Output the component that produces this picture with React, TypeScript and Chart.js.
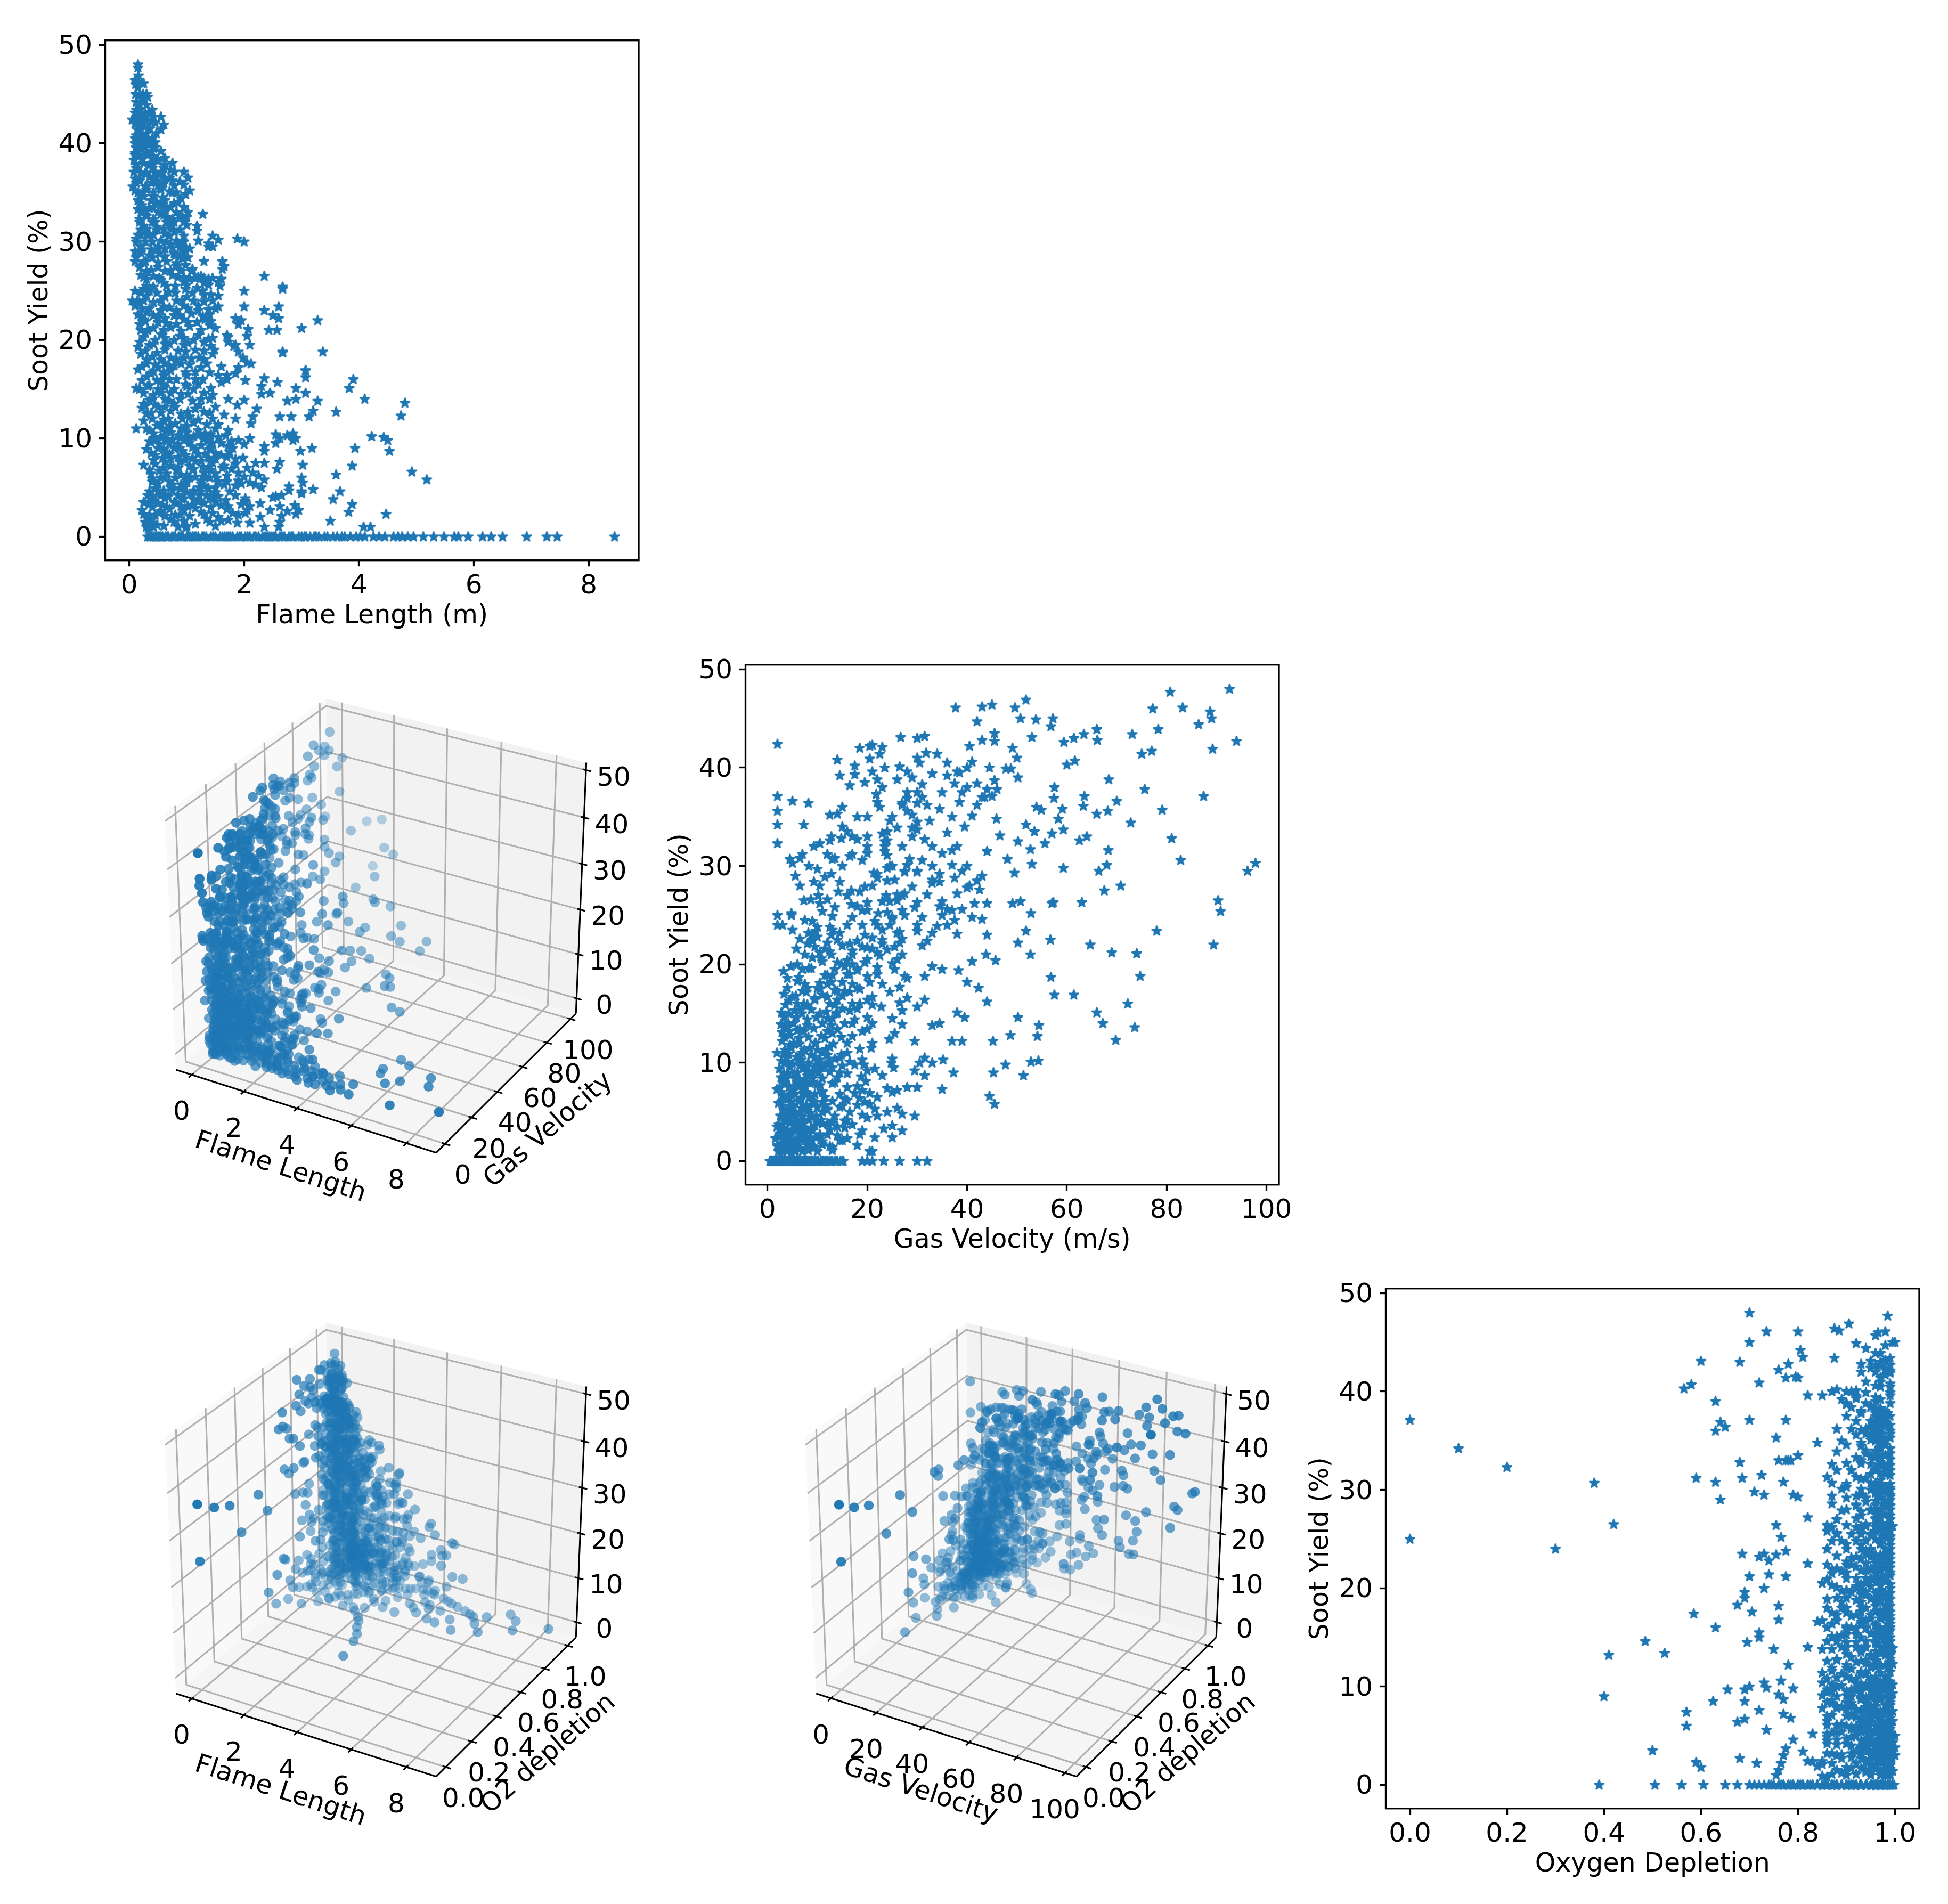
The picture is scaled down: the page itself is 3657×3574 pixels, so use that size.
import React, { useEffect, useRef } from "react";
import { Chart, registerables } from "chart.js";

Chart.register(...registerables);

// [flame length, gas velocity, oxygen depletion]
const zeroYieldRows = [
[.32,6.1,.97],[.38,2.2,.93],[.42,.6,.99],[.47,3.4,.88],[.52,1.1,.98],[.58,5.2,.84],[.63,7.4,.95],[.68,.9,.9],[.74,4.3,.78],[.8,8.3,.96],
[.86,2.8,.7],[.93,9.6,.92],[1,1.6,.86],[1.06,10.7,.745],[1.13,3.9,.99],[1.2,11.8,.765],[1.27,.5,.91],[1.34,6.7,.785],[1.42,13,.97],[1.5,2.4,.805],
[1.58,14,.94],[1.66,5.6,.825],[1.73,7,.72],[1.8,9,.89],[1.88,12.4,.855],[1.95,9.5,.98],[2.02,1.3,.875],[2.1,7.9,.73],[2.17,6,.95],[2.25,4.8,.71],
[2.32,8,.91],[2.4,10.2,.83],[2.48,11,.93],[2.55,3.2,.675],[2.62,5,.94],[2.7,11.2,.65],[2.78,3,.955],[2.85,6.4,.605],[3,1.9,.965],[3.08,8.8,.56],
[3.15,13.5,.975],[3.22,2.6,.505],[3.3,15.2,.985],[3.4,4.6,.39],[3.55,7,.995],[3.62,.8,.87],[3.7,12,.998],[3.85,3.6,.85],[3.95,5.9,.988],[4.1,9.9,.82],
[4.25,1.5,.9],[4.45,7.7,.972],[4.6,2.9,.8],[4.68,11,.962],[4.75,4.1,.88],[4.85,.7,.952],[4.95,6.2,.79],[5.12,3,.942],[5.3,8.6,.84],[5.48,1.8,.928],
[5.66,23.3,.77],[5.73,20,.915],[5.9,32,.905],[6.15,15,.86],[6.3,30,.93],[6.5,19,.81],[6.92,3,.995],[7.27,26.5,.96],[7.45,21,.89],[8.45,8,.97],
[.36,1.9,.9],[.45,4.8,.82],[.55,2.9,.94],[.66,6,.87],[.78,3.4,.99],[.9,7.8,.85],[1.03,5.4,.96],[1.16,9,.8],[1.3,2.2,.93],[1.46,6.4,.88],
[1.62,10,.98],[1.76,3.6,.83],[1.92,8.2,.92],[2.06,4.4,.86],[2.2,11.5,.97],[2.36,2.8,.9],[2.52,7.2,.81],[2.66,5.8,.95],[2.82,9.4,.84],[3.05,4,.89],
[3.25,6.6,.93],[3.45,2.4,.78],[3.75,8.6,.96],[4.02,1.2,.91],[4.35,5,.87],[.5,.8,.76],[1.1,1.4,.74],[1.7,12.8,.77],[2.44,13.8,.75],[2.95,14.6,.79]];

// [flame length, gas velocity, oxygen depletion, soot yield]
const lowYieldRows = [
[.35,4,.755,1],[.42,7,.97,1],[.85,10,.99,1],[1,13,.99,1.1],[.3,21,.9,1],[2.35,20.5,.985,1],[2.6,2.2,.97,1],[4.08,3,.98,1],[4.2,5.5,.95,1],[.28,2,.76,1.5],
[.42,3.5,.985,1.4],[.72,6,.6,1.8],[1.4,9,.97,1.5],[1.6,18,.96,1.6],[1.88,13,.995,1.4],[2.62,12.5,.94,1.5],[3.5,8,.99,1.6],[.3,5,.95,1.3],[.95,2,.98,1.6],[.38,11,.91,1.7],
[.25,1.6,.59,2.3],[.35,3,.715,2.2],[.45,5,.765,2.2],[.62,7.5,.85,2.1],[.8,8.8,.99,2.2],[1.05,14.5,.95,2.1],[1.3,16,.97,2.3],[1.55,11,.98,2],[1.8,25,.82,2.4],[2.02,21.5,.83,2.4],
[2.28,6,.99,2],[2.65,15,.96,2.1],[2.9,8.5,.94,2.3],[3.82,2.4,.98,2.5],[4.47,3.3,.99,2.3],[.22,2.5,.68,2.7],[.55,4.5,.975,2.6],[.95,6.5,.93,2.7],[1.25,10.5,.99,2.5],[1.7,3.8,.965,2.8],
[2.05,12,.98,2.7],[2.95,18.5,.97,2.7],[.4,2.9,.77,3],[.65,4,1,3],[.9,8,.96,3.1],[1.1,12.5,.91,3.2],[1.42,7,.88,3],[1.72,19,.99,3.1],[1.95,23.3,.98,3.3],[2.1,27,.93,3.1],
[2.62,9,.95,3.1],[2.88,5,.985,3.2],[3.88,7,.97,3.3],[.25,1.9,.5,3.5],[.5,3.2,.81,3.4],[.78,6.2,.99,3.5],[1.2,9.5,.97,3.6],[1.5,14,.945,3.5],[2.02,25,.99,3.6],[3.55,11,.96,3.8],
[.4,2.3,.775,3.7],[.62,4.6,.945,3.9],[.92,7.2,1,3.8],[1.12,12,.99,3.8],[1.4,5.6,.96,4],[1.68,17,.93,3.7],[2.02,10,.98,3.9],[2.5,3.6,.97,4],[.32,3.4,.9,4.2],[.55,6,.99,4.2],
[.85,8.3,.965,4.2],[1.1,4.5,.995,4.3],[1.35,10.8,.95,4.2],[1.55,15.5,.97,4.1],[2.55,13,.985,4.1],[2.65,6.8,.94,4.2],[3,20,.96,4.4],[.5,2.6,.79,4.6],[.75,5,.97,4.7],[1,9,.93,4.5],
[1.25,13.5,.99,4.6],[1.5,7,.86,4.5],[2.78,19,.98,4.7],[3.67,22,.94,4.6],[3.0,29.5,.99,4.6],[.45,3.9,.98,4.9],[.72,6.5,.95,5],[.95,11,.985,5],[1.22,5.5,.92,5],[1.5,16.5,1,5],
[2.3,24,.97,5],[2.78,8,.99,5.1],[.9,21.5,.96,5.3],[1.3,4,.83,5.2],[1.65,7.5,.99,5.3],[1.95,26,.88,5.4],[2.2,12,.97,5.3],[2.1,14.5,.94,5.5],[3.2,27,.995,4.8],[3.02,10,.98,5.5]];

const lowMidRows = [
[.4,3,.735,5.6],[.7,5.2,.96,5.6],[1,7.8,.99,5.7],[1.25,11.5,.91,5.7],[1.7,15,.97,5.6],[1.9,18,.98,5.7],[2.35,20.5,.93,5.8],[5.18,45.5,.97,5.8],[.55,2.8,.57,6],[.8,4.7,.99,6],
[1.05,9.2,.96,6],[1.3,13,.88,6.1],[1.52,19.5,.99,6],[2,6.3,.945,6.1],[2.25,16,.97,6.2],[3,11,.9,6],[.38,3.6,.675,6.4],[.65,6.7,.985,6.4],[1,4.1,.93,6.3],[1.3,8.4,.97,6.5],
[1.5,18.5,.95,6.4],[1.9,11.5,.995,6.5],[2.15,22,.86,6.5],[3.6,15.5,.98,6.3],[4.92,44.5,.94,6.6],[.52,3,.69,6.7],[.82,5.5,.97,6.8],[1.1,9.5,.785,6.8],[1.42,14.5,.99,6.8],[1.78,17.5,.92,6.9],
[2.05,25,.96,7],[2.57,20.5,.97,6.9],[.45,2.4,.57,7.4],[.72,7.2,.77,7.2],[1.05,5.3,.95,7.2],[1.28,11,.99,7.1],[1.65,19,.91,7.2],[1.85,24,.98,7.4],[2.2,30,.94,7.5],[3.02,35,.96,7.3],
[3.88,26,.99,7.2],[.25,1.9,.945,7.3],[.62,4.4,.72,7.6],[.88,7.6,.98,7.6],[1.15,10.5,.9,7.7],[1.45,16,.97,7.5],[2.35,28,.995,7.5],[2.62,18,.93,7.6],[.58,3.5,.96,8],[.85,6.4,.99,8.1],
[1.1,9,.88,8],[1.38,13.5,.95,8],[1.7,19.7,.98,8.1],[1.98,7,.91,8],[.38,2.7,.625,8.5],[.65,5.6,.69,8.5],[.92,8,.77,8.7],[1.2,11,.99,8.4],[1.5,14,.96,8.5],[1.75,18.8,.87,8.6],
[2.35,31.5,.97,8.7],[2.98,23,.99,8.7],[4.53,51.3,.93,8.7],[.3,3.3,.95,8.9],[.5,6,.4,9],[.78,9,.98,9],[1.1,12.5,.9,9.1],[1.4,16,.97,8.9],[1.72,20,.99,9.2],[2.35,29.5,.76,9.2],
[3.93,45.3,.98,9],[3.18,37.3,.96,9],[.52,2.4,.96,9.4],[.85,7.1,.86,9.4],[1.25,10,.995,9.3],[1.6,13,.93,9.5],[2,21.5,.97,9.4],[2.55,25.3,.985,9.5],[.35,4.5,.655,9.7],[.65,6.5,.69,9.7],
[.95,9.8,.99,9.8],[1.35,15,.91,9.7],[1.9,17.5,.975,9.8],[2.1,24.8,.95,10],[2.85,19.3,.79,9.8],[4.5,47.7,.98,9.8],[.45,3.4,.7,10],[.75,5,.735,9.9],[1,8.2,.96,10],[1.3,12,.88,10],
[1.55,16.5,.99,10.1],[2.62,33,.97,10],[2.9,30.5,.94,10],[4.43,52.8,.96,10.1],[4.22,54.3,.995,10.2],[.6,2.8,.97,10.2],[.85,6.8,.92,10.3],[1.2,10.5,.98,10.3],[1.42,13.5,.85,10.4],[1.68,19,.93,10.3],
[2.55,25,.73,10.4],[2.75,35.2,.99,10.3],[.42,3.9,.97,10.5],[.72,5.8,.765,10.6],[1,9.5,.95,10.6],[1.32,14.5,.99,10.5],[2.85,31.5,.965,10.5],[.12,1.9,.9,11],[.3,3.2,.98,11],[.58,7,.96,11],
[.9,11,.9,11],[1.5,16,.985,11],[.55,4.8,.94,11.5],[.8,8.5,.99,11.5],[1.12,12.5,.87,11.6],[1.55,18.5,.97,11.4],[2.12,20.8,.93,11.5],[.4,5.3,.985,12],[.68,9.7,.95,12],[1.05,2.9,.78,12.2],
[1.45,16,.99,12],[1.85,21,.96,12],[2.62,37,.9,12.2],[2.82,39,.98,12.2],[3.13,45.2,.97,12.2],[4.73,69.8,.995,12.3],[.3,6.3,.92,12.5],[.55,3.4,.96,12.6],[.9,11.5,.99,12.5],[1.3,17,.88,12.7],
[1.65,24.4,.94,12.4],[2.15,29.5,.97,12.2],[3.2,48.7,.99,12.8],[3.6,54.1,.96,12.7],[.22,2.9,.95,13.1],[.5,4.4,.98,13.2],[.8,7.3,.41,13.2],[1.15,13,.91,13],[1.5,19,.99,13.2],[2.22,25.5,.96,13]];

const midRows = [
[.25,3.5,.975,13.5],[.45,6.5,.525,13.4],[.78,9.3,.93,13.5],[1.22,14,.99,13.4],[1.88,20,.97,13.4],[2.75,33,.85,13.8],[3.28,54.4,.75,13.8],[4.8,73.6,.96,13.6],[.35,2.7,.98,13.9],[.62,5.2,.94,14],
[.88,11,.99,14],[1.25,15.5,.82,14],[1.72,21,.97,14],[2.0,27,.995,13.9],[2.9,34.5,.92,14],[4.1,67.2,.97,14],[.42,8,.96,14.4],[.72,3.4,.485,14.6],[1.02,12,.695,14.5],[1.45,17.5,.98,14.4],
[2.3,25,.9,14.5],[2.45,39.5,.99,14.6],[3.07,50.2,.96,14.6],[.18,4.3,.97,15],[.5,6.9,.72,15],[.78,10.5,.99,15],[1.12,13.8,.93,15],[2.3,27,.975,15.3],[2.9,38,.88,15.1],[3.83,66,.98,15.1],
[.12,2.8,.96,15.1],[.32,5.5,.9,15.3],[.6,8.8,.985,15.4],[.98,15,.72,15.5],[1.2,18,.96,15.5],[1.6,22.8,.99,15.7],[2.58,30,.97,15.7],[.48,3.6,.92,15.9],[.7,7.3,.94,16],[1.15,12.5,.63,16],
[1.7,17,.99,16],[2.02,21,.97,15.9],[2.35,26.5,.9,16.1],[3.9,72.2,.98,16],[.3,4.3,.96,16.3],[.6,9.5,.99,16.4],[1,14,.87,16.4],[1.55,20,.93,16.4],[1.7,31.5,.985,16.4],[3.07,57.5,.97,16.9],
[.42,5.7,.76,16.8],[.72,11,.95,16.9],[1.15,15,.99,16.8],[1.85,28,.84,16.6],[3.07,44,.96,16.2],[.15,3.3,.98,17],[.5,7.8,.91,17.2],[.78,13.5,.585,17.4],[1.25,16.5,.97,17.2],[1.9,24.5,.99,17.2],
[3.07,61.4,.93,16.9],[.3,4,.96,17.6],[.62,8,.705,17.6],[.9,10,.98,17.6],[1.35,18,.93,17.6],[2.05,26.5,.97,17.7],[2.12,42.3,.99,17.6],[.4,6,.675,18.3],[.72,12.8,.96,18.2],[.95,15,.76,18.2],
[1.22,20.5,.99,18.2],[1.45,28,.93,18.6],[1.98,40,.98,18.2],[2.67,56.8,.97,18.7],[3.37,74.7,.96,18.8],[.2,4,.89,18.6],[.48,6.3,.96,18.7],[.85,11.5,.99,18.9],[1.15,16,.69,19],[1.48,22,.9,19],
[1.9,27.5,.97,18.8],[2.67,31.5,.985,18.8],[.15,3.2,.94,19.3],[.35,7,.98,19.5],[.62,8.3,.69,19.6],[.95,13.5,.99,19.5],[1.42,18,.93,19.4],[1.85,25.5,.96,19.5],[.18,4.7,.97,19.8],[.45,6,.92,20],
[.78,14.8,.73,20],[1.12,17,.99,20],[1.45,19.5,.95,20.2],[1.72,33,.9,19.8],[1.82,38.3,.98,19.4],[2.1,35,.97,19.5],[.28,9,.98,20.7],[.55,10.8,.96,20.6],[.88,16,.99,20.4],[1.2,20,.85,20.5],
[1.7,26,.94,20.5],[1.72,41,.97,20.3],[2.05,45.7,.93,20.4],[.2,7.5,.97,21],[.42,10.5,.7,21.2],[.72,12.5,.99,21.3],[1.05,17,.74,21.4],[1.5,22,.775,21.2],[2.57,43.8,.96,21],[3,69,.98,21.2],
[2.07,74,.96,21.1],[2.43,52.7,.95,21],[.18,5.8,.9,21.6],[.5,9.5,.97,21.8],[.82,11.5,.99,21.6],[1.18,19,.94,21.8],[1.4,24,.87,21.5],[1.9,21,.96,21.6],[.25,8,.98,22.1],[.62,12,.92,22.2],
[.95,16.5,.97,22.1],[1.32,23,.99,22.1],[1.85,26.5,.96,22.2],[3.28,64.7,.88,22],[1.95,89.4,.95,22],[2.6,50.2,.97,22.2],[.15,6.5,.96,22.6],[.42,9,.99,22.5],[.78,14,.82,22.5],[1.08,21,.9,22.7],
[1.4,27,.97,22.6],[2.5,56.7,.98,22.5],[.3,10,.74,22.8],[.55,12.8,.96,23],[.82,8.8,.99,23],[1.2,19.5,.93,23],[1.5,26,.98,23.2],[2.35,44,.97,23],[.1,5,.685,23.5],[.22,8.2,.72,23.2],
[.6,9.7,.99,23.4],[.95,13,.73,23.5],[1.2,23,.94,23.5],[1.55,30,.755,23.4],[2.6,78,.97,23.4],[2.0,51.8,.96,23.4],[.18,10,.775,23.8],[.05,3,.3,24],[.42,12.5,.94,23.8],[.82,16,.99,24],
[1.12,24.5,.86,24],[1.45,36,.98,24],[.14,2,.95,24],[.3,7.5,.97,24.5],[.62,9,.99,24.4],[1,21.5,.93,24.4],[1.3,25,.97,24.6],[1.55,37.5,.9,24.5],[.1,2,0,25],[.35,4.8,.97,25],
[.68,13,.99,24.9],[.98,22.2,.765,25.2],[1.28,27.5,.96,25],[2,35,.97,25],[2.67,90.8,.98,25.4],[.42,11,.95,25.4],[.8,19,.88,25.5],[1.18,24,.99,25.3],[1.58,37,.93,25.5],[2.67,52.8,.975,25.2],
[.25,4.8,.99,25.2],[.6,13.5,.96,25.8],[.95,18,.97,25.9],[1.3,29.5,.86,25.8],[1.55,34.5,.99,25.9],[.3,10.5,.92,26.2],[.55,16.8,.98,26.1],[.85,24.5,.755,26.4],[1.15,20,.93,26.3],[1.6,41.5,.96,26.2]];

const upperMidRows = [
[2.35,90.3,.96,26.5],[1.3,57.3,.98,26.3],[1.45,63,.995,26.3],[1.2,50.7,.97,26.4],[1.6,57,.93,26.2],[1.05,49.1,.99,26.2],[.42,7.3,.42,26.5],[.75,12,.97,26.6],[.2,8.7,.985,26.6],[1.25,26,.94,26.5],
[.3,16,.96,27],[.62,10.2,.99,27],[.9,23.8,.88,27],[1.62,27.5,.97,27.2],[1.65,67.5,.98,27.5],[.18,14.2,.93,27.4],[.5,18.5,.99,27.4],[.82,16.8,.96,27.5],[1.1,38,.82,27.2],[.98,42.5,.97,27.6],
[.1,6.5,.96,28],[.28,10.5,.99,28],[.65,21,.9,28],[.92,33,.98,28.3],[1.3,40.5,.97,28],[1.62,70.8,.95,28],[.12,9.3,.99,28.4],[.4,14.5,.92,28.4],[.8,25.5,.975,28.6],[1.02,34.5,.99,28.4],
[.2,11.5,.96,28.9],[.52,22,.98,28.8],[.78,37.5,.94,28.8],[.95,43,.99,29],[.1,5.6,.64,29],[.38,12.8,.97,29.2],[.62,21.3,.99,29.3],[.88,27.5,.93,29.5],[1.05,49.5,.8,29.3],[1.38,24,.71,29.8],
[1.45,66.4,.79,29.5],[1.38,96.2,.99,29.5],[.2,30,.73,29.5],[.5,39,.97,29.5],[.72,10,.96,29.7],[.95,15,.98,30],[.12,8.3,.96,30],[.4,24.5,.99,30],[.65,33,.95,30],[.85,59.3,.985,29.8],
[1.2,68,.97,30.1],[1.55,53,.99,30.2],[1.88,97.8,.98,30.3],[2,40,.96,30],[.12,5,.9,30.3],[.35,6.5,.63,30.8],[.62,13.5,.77,30.8],[.95,19,.97,30.6],[1.45,82.8,.99,30.6],[.2,7,.59,31.2],
[.48,12,.685,31.2],[.78,16.5,.97,31],[1.18,24,.93,31.1],[.15,48.1,.96,30.7],[.3,4.5,.38,30.7],[.48,23.5,.99,31.5],[.72,44,.725,31.5],[1,52.7,.97,31.7],[1.18,68.3,.95,31.6],[.25,37,.98,31.6],
[.4,9.3,.96,32],[.65,20,.99,32],[.95,33,.91,32],[.18,2,.2,32.3],[.42,55.6,.96,32.3],[.75,10.5,.98,32.3],[1,23.5,.99,32.5],[.3,12.5,.95,32.6],[.65,50.2,.97,32.5],[.88,62.5,.985,32.6],
[1.28,14.8,.68,32.8],[.55,81,.97,32.8],[.2,17,.93,33],[.5,29,.76,33],[.82,64,.775,33],[1.02,12.8,.78,33],[.3,46.6,.99,33.1],[.62,20,.785,33],[.15,57,.96,33.3],[.42,24,.97,33.5],
[.72,53.5,.8,33.5],[.95,16,.98,33.5],[.22,30,.94,33.7],[.55,59.3,.99,33.7],[.85,15,.96,34],[.15,2,.1,34.2],[.38,7.3,.97,34.2],[.62,51.8,.99,34.2],[.9,72.8,.97,34.4],[.2,45.9,.84,34.8],
[.42,32.5,.98,34.6],[.75,18,.96,35],[.98,58.3,.93,34.8],[.1,12.5,.97,35.2],[.3,66,.755,35.3],[.55,14,.99,35.3],[.82,25,.96,35],[1.05,29,.98,35.2],[.06,2,.95,35.6],[.28,68.2,.97,35.6],
[.5,79.1,.99,35.7],[.78,54.9,.94,35.7],[.95,59.1,.97,35.8],[.12,15,.99,36],[.38,53.9,.96,36],[.6,22.5,.63,36],[.88,63.3,.93,36.1],[.1,30,.65,36.4],[.35,5,.98,36.6],[.62,27,.95,36.4],
[.18,8.2,.97,36.4],[.42,70,.99,36.6],[.7,38.5,.96,36.5],[1.02,22,.975,36.5],[.08,2,.0,37.1],[.3,28,.64,36.9],[.55,57.4,.98,36.9],[.78,87.4,.97,37.1],[.95,63.5,.7,37.1],[.2,43.5,.96,37],
[.45,45,.775,37.1],[.72,21.8,.98,37.3],[.12,28,.97,37.5],[.35,75.6,.96,37.8],[.6,39,.99,37.5],[.12,44,.985,37.8],[.4,57.5,.97,38],[.75,23,.93,38],[.25,40,.98,38],[.5,16.5,.96,38.2],
[.08,31,.97,38.3],[.18,68.4,.99,38.8],[.42,45.5,.9,38.7],[.62,19.5,.95,38.5],[.1,29,.63,39],[.3,50.2,.96,39],[.15,17.5,.92,39.3],[.38,14.5,.89,39.2],[.55,36,.97,39.2],[.12,38,.99,39.6],
[.28,21,.82,39.6],[.45,28,.85,39.6],[.2,47.8,.94,39.9],[.35,48.8,.99,39.9],[.1,40,.87,40],[.28,23.5,.9,40]];

const topYieldRows = [
[.14,60,.565,40.3],[.22,61.6,.58,40.7],[.32,17.5,.88,40.2],[.45,26.5,.92,40.1],[.1,30.5,.97,40.5],[.25,41,.96,40.6],[.4,36,.99,40.5],[.18,20.5,.72,40.9],[.3,50,.94,41],[.47,30,.97,41],
[.12,14,.99,40.8],[.2,75,.775,41.4],[.36,31.8,.795,41.5],[.55,34,.8,41.4],[.14,22.5,.97,41.4],[.26,77,.98,41.7],[.6,89.2,.99,41.9],[.1,49.1,.96,42],[.2,18.5,.93,42],[.38,40.5,.98,42.2],
[.05,2,.95,42.4],[.16,20.5,.76,42.2],[.28,21,.98,42.3],[.45,23,.99,42.1],[.55,94,.96,42.7],[.12,59.4,.97,42.6],[.3,43,.78,42.8],[.18,66.1,.93,42.8],[.42,45.5,.99,42.7],[.1,26.7,.6,43.1],
[.22,30,.68,43],[.35,31.5,.98,43.2],[.14,53,.95,43.1],[.28,61.4,.97,43],[.4,73.1,.99,43.4],[.2,45.5,.81,43.5],[.12,63.4,.875,43.4],[.3,78.3,.97,43.9],[.18,66,.96,43.9],[.12,56.8,.805,44.2],
[.25,86.4,.94,44.4],[.32,42,.98,44.7],[.18,53.8,.92,44.9],[.11,57.2,.995,45],[.24,50.7,.7,45],[.3,89,1,45],[.15,88.7,.96,45.7],[.1,45,.875,46.4],[.13,43,.885,46.2],[.22,83.2,.98,46.1],
[.11,77.2,.965,46],[.14,37.7,.8,46.1],[.25,49.6,.735,46.1],[.16,51.8,.905,46.9],[.15,80.7,.985,47.7],[.15,92.6,.7,48]];

// denser filling of the crowded regions
const crowdedLowRows = [
[.33,2.6,.86,.8],[.48,3.8,.89,1.2],[.6,5.6,.92,1.1],[.78,3,.88,1.5],[.98,4.8,.85,.9],[1.15,6.6,.94,1.3],[1.35,3.4,.9,1.8],[1.5,8.2,.87,1.1],[1.72,5.2,.93,1.7],[2.1,9.4,.9,1.4],
[.3,4.2,.84,1.9],[.52,6.4,.94,2.4],[.7,2.6,.91,2.8],[.88,4.4,.87,2.2],[1.15,7.6,.96,2.9],[1.45,9.8,.85,2.4],[1.9,6.8,.92,2.2],[2.45,10.5,.89,2.7],[2.75,14,.95,2.6],[.34,5.6,.93,3.3],
[.58,7.4,.86,3.2],[.82,2.5,.94,3.4],[1.02,5.6,.89,3.1],[1.3,8.8,.92,3.4],[1.6,12.5,.87,3.2],[2.28,15.5,.94,3.4],[.42,6.8,.91,4],[.68,3.3,.88,4.1],[.95,6,.94,3.9],[1.22,10,.86,4.2],
[1.45,13,.93,3.9],[1.85,16,.9,4.2],[.35,2.8,.95,4.6],[.6,5.4,.9,4.7],[.88,8.6,.86,4.9],[1.12,3.6,.94,4.7],[1.38,6.4,.91,4.9],[1.75,9.8,.88,4.6],[.5,6.8,.93,5.4],[.75,3.2,.87,5.3],
[1,5,.92,5.5],[1.25,8.2,.89,5.4],[1.55,4.6,.95,5.6],[1.85,12,.86,5.2],[.4,2.2,.91,5.9],[.62,9,.88,6.1],[.9,3.6,.94,6.3],[1.15,6.2,.86,6.1],[1.4,9.4,.92,6],[1.7,6.6,.89,6.2],
[.35,4.8,.95,6.8],[.6,7.8,.9,7],[.85,2.8,.86,7],[1.12,7.2,.93,6.9],[1.38,4.8,.87,7.1],[1.62,11,.91,7],[.42,6,.88,7.8],[.72,3.2,.94,7.9],[.98,10,.85,7.8],[1.25,6.4,.92,7.7],
[1.5,8.6,.89,7.9],[1.85,13,.95,7.9],[.45,7.5,.91,8.3],[.7,3.8,.86,8.4],[.98,5.8,.94,8.3],[1.32,9,.9,8.4],[1.6,6,.87,8.3],[.6,4.2,.93,8.9],[.88,10.2,.88,9],[1.15,5.4,.94,8.9],
[1.42,7.8,.85,9.1],[1.8,14.5,.91,9],[.38,8,.92,9.6],[.7,11,.87,9.5],[1.05,4.4,.95,9.6],[1.45,9.8,.9,9.5],[1.78,11.5,.86,9.7],[.55,3.8,.93,10.1],[.88,12.5,.89,10.1],[1.12,6.2,.94,10.2],
[1.4,10,.87,10.2],[.35,6.6,.91,10.8],[.65,8.7,.95,10.8],[.95,4.2,.88,10.9],[1.2,12,.92,10.8],[1.72,14.8,.86,10.8],[.48,10,.94,11.3],[.7,3.5,.89,11.3],[1,7.4,.93,11.3],[1.35,11.8,.85,11.4],
[.25,4.5,.91,11.8],[.6,6.4,.87,11.9],[.92,9.5,.95,12],[1.2,13.2,.9,11.9],[.38,8.2,.93,12.6],[.72,4.5,.88,12.8],[1.02,10.8,.94,12.7],[1.4,14.8,.86,12.6],[.28,6,.9,13.3],[.62,12,.95,13.2]];

const crowdedMidRows = [
[.4,4.2,.89,14],[.7,8,.87,13.8],[1.1,12.8,.93,13.8],[1.4,17,.9,14],[.25,5.8,.94,14.6],[.55,9.8,.86,14.6],[.9,13,.92,14.5],[1.3,20,.88,14.6],[.35,6.8,.95,15.4],[.62,11.8,.89,15.2],
[1,16.5,.92,15.3],[1.42,14,.87,15.1],[.22,8,.9,15.9],[.55,13.5,.94,15.9],[.82,6,.86,16],[1.28,18.5,.91,16],[.38,9.5,.93,16.6],[.6,5,.88,16.7],[.98,12,.94,16.7],[1.4,21,.85,16.7],
[.22,7,.92,17.3],[.45,10.5,.87,17.5],[.7,15.5,.95,17.3],[1.05,18.5,.9,17.5],[1.6,14,.88,17.3],[.3,12,.94,18],[.55,7.5,.9,18],[.82,17,.86,18],[1.08,10.5,.93,18.1],[1.3,23,.89,18],
[.28,13,.95,18.9],[.62,16.5,.88,19],[.98,20,.92,18.8],[1.3,12,.86,18.9],[.42,8.8,.91,19.6],[.7,18,.94,19.6],[1.02,22,.89,19.7],[1.3,15.5,.93,19.8],[.25,11,.87,20.3],[.62,14,.92,20.2],
[.95,19.5,.95,20.2],[1.38,25,.88,20.1],[.32,12.8,.9,21],[.6,17,.94,21],[.9,22.5,.86,20.9],[1.25,27,.92,21],[.28,15,.95,21.9],[.65,20,.89,21.7],[1.02,25.5,.93,21.8],[1.42,31,.87,21.9],
[.2,9,.91,22.4],[.5,18,.86,22.4],[.88,23,.94,22.5],[1.28,32,.9,22.4],[.35,14.5,.92,23.2],[.7,26.5,.88,23.3],[1.02,33,.95,23.2],[1.38,38,.91,23.1],[.25,19,.86,24],[.55,22,.93,24],
[.92,30,.9,24],[1.3,34,.95,23.9],[.2,17,.89,24.8],[.48,25,.94,24.8],[.8,31,.87,24.8],[1.1,41,.92,24.8],[1.42,43,.97,24.6],[.3,20,.91,25.5],[.65,27,.95,25.5],[1,36,.88,25.6],
[1.38,39,.93,25.6],[.25,23,.86,26.4],[.52,30,.94,26.3],[.95,35,.9,26.4],[1.38,44,.87,26.2],[.38,26,.92,27.1],[.72,32,.96,27.1],[1.08,27,.88,27],[.25,19.5,.95,27.9],[.5,29,.89,27.9],
[.82,40,.93,27.8],[.35,33,.87,28.6],[.62,24,.92,28.5],[.88,42,.96,28.5],[.22,22,.9,29.2],[.48,34.5,.94,29.2],[.75,27.5,.87,29.4],[.98,30,.92,29.4],[.28,25,.96,30],[.55,28,.89,30.1],
[.82,37,.93,30.1],[.2,13,.87,30.7],[.42,28.5,.95,30.7],[.7,31,.9,30.6],[.3,20,.92,31.3],[.6,35,.86,31.3],[.88,17,.94,31.2],[.18,23.5,.91,32],[.45,27,.96,32],[.78,38,.88,32],
[.28,18,.93,32.7],[.6,31.5,.9,32.7],[.92,24,.87,32.6],[.35,36,.95,33.4],[.62,23,.92,33.3],[.18,26,.88,33.9],[.48,39.5,.94,34],[.78,29,.96,33.9],[.25,24.5,.9,34.6],[.58,30,.93,34.5],
[.15,20,.97,35],[.42,37,.89,35],[.7,41,.95,35.1],[.3,28,.92,35.6],[.58,34.5,.96,35.8],[.18,42,.91,36.2],[.48,27,.94,36.2],[.75,32,.88,36.2],[.28,31,.95,37],[.55,43,.92,37],
[.15,35,.9,37.5],[.4,30,.96,37.5],[.62,46,.93,37.8],[.22,37.5,.91,38.4],[.48,42,.95,38.4],[.1,22,.94,38.8],[.32,26,.9,38.8],[.2,33,.96,39.4],[.42,38.5,.92,39.5],[.12,44.5,.91,40]];

const sootTicks = [0, 10, 20, 30, 40, 50];
const flameTicks = [0, 2, 4, 6, 8];
const velocityTicks = [0, 20, 40, 60, 80, 100];
const oxygenTicks = [0, 0.2, 0.4, 0.6, 0.8, 1];

const allRows = [
  ...zeroYieldRows.map((r) => [r[0], r[1], r[2], 0]),
  ...lowYieldRows, ...lowMidRows, ...midRows, ...upperMidRows, ...topYieldRows, ...crowdedLowRows, ...crowdedMidRows,
];
const flameLength = allRows.map((r) => r[0]);
const gasVelocity = allRows.map((r) => r[1]);
const oxygenDepletion = allRows.map((r) => r[2]);
const sootYield = allRows.map((r) => r[3]);

const BLUE = "#1f77b4";
const FONT = "'DejaVu Sans'";
const CANVAS_W = 1300;
const CANVAS_H = 1200;
const AREA = { left: 197.5, top: 75.7, right: 1199, bottom: 1051.7 };

const FLAME_LIM: [number, number] = [-0.42, 8.87];
const VEL_LIM: [number, number] = [-4.4, 102.5];
const O2_LIM: [number, number] = [-0.05, 1.05];
const SOOT_LIM: [number, number] = [-2.4, 50.47];

function makeStar() {
  const c = document.createElement("canvas");
  c.width = 26;
  c.height = 26;
  const g = c.getContext("2d")!;
  const R = 9;
  g.beginPath();
  for (let i = 0; i < 10; i++) {
    const r = i % 2 === 0 ? R : R * 0.381966;
    const a = -Math.PI / 2 + (i * Math.PI) / 5;
    const px = 13 + r * Math.cos(a);
    const py = 13.3 + r * Math.sin(a);
    if (i === 0) g.moveTo(px, py);
    else g.lineTo(px, py);
  }
  g.closePath();
  g.fillStyle = BLUE;
  g.strokeStyle = BLUE;
  g.lineWidth = 3;
  g.lineJoin = "round";
  g.fill();
  g.stroke();
  return c;
}

function fixBox(scale: any, size: number) {
  if (scale.isHorizontal()) scale.height = size;
  else scale.width = size;
  scale.paddingLeft = 0;
  scale.paddingRight = 0;
  scale.paddingTop = 0;
  scale.paddingBottom = 0;
}

function make2D(canvas: HTMLCanvasElement, xs: number[], star: HTMLCanvasElement, xLim: [number, number], xStep: number, xTitle: string, decimals: number) {
  const tickFont = { family: FONT, size: 50 };
  const spine = {
    id: "spine",
    afterDatasetsDraw(chart: any) {
      const a = chart.chartArea;
      const g = chart.ctx;
      g.save();
      g.strokeStyle = "#000";
      g.lineWidth = 3.33;
      g.lineJoin = "miter";
      g.strokeRect(a.left, a.top, a.right - a.left, a.bottom - a.top);
      g.restore();
    },
  };
  const gridOpt = { drawOnChartArea: false, drawTicks: true, tickLength: 11.5, tickColor: "#000", tickWidth: 3.33 };
  return new Chart(canvas, {
    type: "scatter",
    data: {
      datasets: [{
        data: xs.map((x, i) => ({ x, y: sootYield[i] })),
        pointStyle: star as any,
        pointRadius: 10,
        pointBorderWidth: 0,
        backgroundColor: BLUE,
      }],
    },
    options: {
      responsive: false,
      animation: false,
      devicePixelRatio: 1,
      layout: { padding: { top: AREA.top, right: CANVAS_W - AREA.right, left: 0, bottom: 0 } },
      plugins: { legend: { display: false }, tooltip: { enabled: false } },
      scales: {
        x: {
          type: "linear",
          min: xLim[0],
          max: xLim[1],
          afterFit: (s: any) => fixBox(s, CANVAS_H - AREA.bottom),
          border: { display: false },
          grid: gridOpt,
          title: { display: true, text: xTitle, color: "#000", font: { family: FONT, size: 49 }, padding: { top: 0, bottom: 13 } },
          ticks: {
            stepSize: xStep,
            includeBounds: false,
            autoSkip: false,
            maxRotation: 0,
            color: "#000",
            font: tickFont,
            padding: 8,
            callback: (v: any) => Number(v).toFixed(decimals),
          },
        },
        y: {
          type: "linear",
          min: SOOT_LIM[0],
          max: SOOT_LIM[1],
          afterFit: (s: any) => fixBox(s, AREA.left),
          border: { display: false },
          grid: gridOpt,
          title: { display: true, text: "Soot Yield (%)", color: "#000", font: { family: FONT, size: 49 }, padding: { top: 47, bottom: 0 } },
          ticks: {
            stepSize: 10,
            includeBounds: false,
            autoSkip: false,
            color: "#000",
            font: tickFont,
            padding: 13,
            labelOffset: 4,
          },
        },
      },
    },
    plugins: [spine],
  } as any);
}

// matplotlib mplot3d view: azim -60, elev 30, dist 10, on the unit cube
const U = [0.8660254, 0.5, 0];
const V = [-0.25, 0.4330127, 0.8660254];
const N = [0.4330127, -0.75, 0.5];
function projectUnit(p: number[]) {
  const r = [p[0] - 0.5, p[1] - 0.5, p[2] - 0.5];
  const w = 10 - (N[0] * r[0] + N[1] * r[1] + N[2] * r[2]);
  return {
    x: (U[0] * r[0] + U[1] * r[1] + U[2] * r[2]) / w,
    y: (V[0] * r[0] + V[1] * r[1] + V[2] * r[2]) / w,
    depth: -10 / w,
  };
}
const norm = (v: number, lim: [number, number]) => (v - lim[0]) / (lim[1] - lim[0]);

function make3D(canvas: HTMLCanvasElement, xs: number[], ys: number[], zs: number[], xLim: [number, number], yLim: [number, number], xTicks: number[], yTicks: number[], xName: string, yName: string, yDec: number) {
  const pts = xs.map((x, i) => projectUnit([norm(x, xLim), norm(ys[i], yLim), norm(zs[i], SOOT_LIM)]));
  const ds = pts.map((p) => p.depth);
  const dMin = Math.min(...ds);
  const dMax = Math.max(...ds);
  pts.sort((a, b) => b.depth - a.depth);
  const colors = pts.map((p) => `rgba(31,119,180,${(1 - ((p.depth - dMin) / (dMax - dMin)) * 0.7).toFixed(3)})`);

  const lo = -1 / 48;
  const hi = 1 + 1 / 48;
  const scene = {
    id: "scene",
    beforeDatasetsDraw(chart: any) {
      const g = chart.ctx;
      const sx = chart.scales.x;
      const sy = chart.scales.y;
      const at = (p: number[]) => {
        const q = projectUnit(p);
        return [sx.getPixelForValue(q.x), sy.getPixelForValue(q.y)];
      };
      const poly = (list: number[][], fill: string) => {
        g.beginPath();
        list.forEach((p, i) => {
          const a = at(p);
          if (i === 0) g.moveTo(a[0], a[1]);
          else g.lineTo(a[0], a[1]);
        });
        g.closePath();
        g.fillStyle = fill;
        g.fill();
      };
      const line = (list: number[][], color: string, w: number) => {
        g.beginPath();
        list.forEach((p, i) => {
          const a = at(p);
          if (i === 0) g.moveTo(a[0], a[1]);
          else g.lineTo(a[0], a[1]);
        });
        g.strokeStyle = color;
        g.lineWidth = w;
        g.lineJoin = "miter";
        g.stroke();
      };
      g.save();
      poly([[lo, lo, lo], [lo, hi, lo], [lo, hi, hi], [lo, lo, hi]], "#f9f9f9");
      poly([[lo, hi, lo], [hi, hi, lo], [hi, hi, hi], [lo, hi, hi]], "#f2f2f2");
      poly([[lo, lo, lo], [hi, lo, lo], [hi, hi, lo], [lo, hi, lo]], "#f5f5f5");

      const GRID = "#b0b0b0";
      xTicks.forEach((t) => {
        const u = norm(t, xLim);
        line([[u, lo, lo], [u, hi, lo], [u, hi, hi]], GRID, 3.1);
      });
      yTicks.forEach((t) => {
        const u = norm(t, yLim);
        line([[hi, u, lo], [lo, u, lo], [lo, u, hi]], GRID, 3.1);
      });
      sootTicks.forEach((t) => {
        const u = norm(t, SOOT_LIM);
        line([[lo, lo, u], [lo, hi, u], [hi, hi, u]], GRID, 3.1);
      });

      line([[lo, lo, lo], [hi, lo, lo]], "#000", 3.1);
      line([[hi, lo, lo], [hi, hi, lo]], "#000", 3.1);
      line([[hi, hi, lo], [hi, hi, hi]], "#000", 3.1);

      g.fillStyle = "#000";
      g.font = `50px ${FONT}`;
      g.textAlign = "center";
      g.textBaseline = "middle";
      const out = 0.02;
      const inn = 0.0125;
      xTicks.forEach((t) => {
        const u = norm(t, xLim);
        line([[u, lo - out, lo], [u, lo + inn, lo]], "#000", 3.1);
        const a = at([u, lo, lo]);
        g.fillText(String(t), a[0] - 19, a[1] + 72);
      });
      yTicks.forEach((t) => {
        const u = norm(t, yLim);
        line([[hi + out, u, lo], [hi - inn, u, lo]], "#000", 3.1);
        const a = at([hi, u, lo]);
        g.fillText(t.toFixed(yDec), a[0] + 33, a[1] + 62);
      });
      sootTicks.forEach((t) => {
        const u = norm(t, SOOT_LIM);
        line([[hi + out, hi, u], [hi - inn, hi, u]], "#000", 3.1);
        const a = at([hi, hi, u]);
        g.fillText(String(t), a[0] + 52, a[1] + 16);
      });

      g.font = `49px ${FONT}`;
      g.save();
      g.translate(526, 1020);
      g.rotate((18 * Math.PI) / 180);
      g.fillText(xName, 0, 0);
      g.restore();
      g.save();
      g.translate(1030, 950);
      g.rotate((-41 * Math.PI) / 180);
      g.fillText(yName, 0, 0);
      g.restore();
      g.restore();
    },
  };

  return new Chart(canvas, {
    type: "scatter",
    data: {
      datasets: [{
        data: pts.map((p) => ({ x: p.x, y: p.y })),
        pointStyle: "circle",
        pointRadius: 9.3,
        pointBorderWidth: 0,
        backgroundColor: colors,
        clip: false,
      }],
    },
    options: {
      responsive: false,
      animation: false,
      devicePixelRatio: 1,
      layout: { padding: { left: AREA.left, top: AREA.top, right: CANVAS_W - AREA.right, bottom: CANVAS_H - AREA.bottom } },
      plugins: { legend: { display: false }, tooltip: { enabled: false } },
      scales: {
        x: { type: "linear", display: false, min: -0.095, max: 0.09 },
        y: { type: "linear", display: false, min: -0.095, max: 0.09 },
      },
    },
    plugins: [scene],
  } as any);
}

const PANELS = [
  { key: "a", left: 0, top: 0 },
  { key: "b", left: 0, top: 1172 },
  { key: "c", left: 1202, top: 1172 },
  { key: "d", left: 0, top: 2343 },
  { key: "e", left: 1202, top: 2343 },
  { key: "f", left: 2404, top: 2343 },
];

export default function App() {
  const refs = useRef<Record<string, HTMLCanvasElement | null>>({});
  useEffect(() => {
    document.body.style.margin = "0";
    const star = makeStar();
    const r = refs.current as Record<string, HTMLCanvasElement>;
    const charts = [
      make2D(r.a, flameLength, star, FLAME_LIM, 2, "Flame Length (m)", 0),
      make3D(r.b, flameLength, gasVelocity, sootYield, FLAME_LIM, VEL_LIM, flameTicks, velocityTicks, "Flame Length", "Gas Velocity", 0),
      make2D(r.c, gasVelocity, star, VEL_LIM, 20, "Gas Velocity (m/s)", 0),
      make3D(r.d, flameLength, oxygenDepletion, sootYield, FLAME_LIM, O2_LIM, flameTicks, oxygenTicks, "Flame Length", "O2 depletion", 1),
      make3D(r.e, gasVelocity, oxygenDepletion, sootYield, VEL_LIM, O2_LIM, velocityTicks, oxygenTicks, "Gas Velocity", "O2 depletion", 1),
      make2D(r.f, oxygenDepletion, star, O2_LIM, 0.2, "Oxygen Depletion", 1),
    ];
    return () => charts.forEach((c) => c.destroy());
  }, []);
  return (
    <div style={{ position: "absolute", left: 0, top: 0, width: 3657, height: 3574, overflow: "hidden", background: "#fff" }}>
      {PANELS.map((p) => (
        <canvas
          key={p.key}
          ref={(el) => { refs.current[p.key] = el; }}
          width={CANVAS_W}
          height={CANVAS_H}
          style={{ position: "absolute", left: p.left, top: p.top, width: CANVAS_W, height: CANVAS_H, display: "block" }}
        />
      ))}
    </div>
  );
}
